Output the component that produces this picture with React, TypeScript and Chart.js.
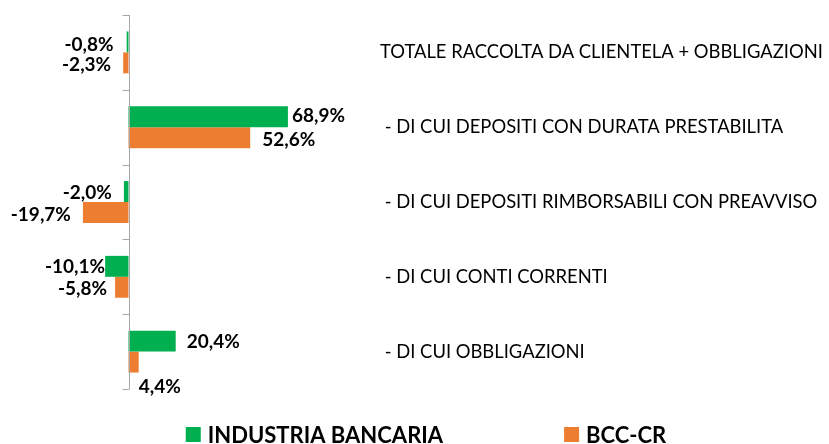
import React, { useEffect, useRef } from "react";
import { Chart, registerables } from "chart.js";

Chart.register(...registerables);

const categories = [
  "TOTALE RACCOLTA DA CLIENTELA + OBBLIGAZIONI",
  " - DI CUI DEPOSITI CON DURATA PRESTABILITA",
  " - DI CUI DEPOSITI RIMBORSABILI CON PREAVVISO",
  " - DI CUI CONTI CORRENTI",
  " - DI CUI OBBLIGAZIONI",
];
const industriaBancaria = [-0.8, 68.9, -2.0, -10.1, 20.4];
const bccCr = [-2.3, 52.6, -19.7, -5.8, 4.4];
const seriesNames = ["INDUSTRIA BANCARIA", "BCC-CR"];
const seriesColors = ["#00B050", "#ED7D31"];

// label placement tweaks (style only)
const labelDx = [
  [13, 4, 12, 0, 11],
  [12, 12, 12, 8, 0],
];
const labelDy = [
  [3, -1, 1, 1, 1],
  [2, 2, 2, 2, 25],
];

const fmt = (v: number) => v.toFixed(1).replace(".", ",") + "%";

const FONT = "Lato, 'Open Sans', sans-serif";

const axisPlugin = {
  id: "zeroAxis",
  afterDatasetsDraw(chart: any) {
    const { ctx, chartArea } = chart;
    const xs = chart.scales.x;
    const x0 = Math.round(xs.getPixelForValue(0)) + 0.5;
    const n = categories.length;
    const step = (chartArea.bottom - chartArea.top) / n;
    ctx.save();
    ctx.strokeStyle = "#A6A6A6";
    ctx.lineWidth = 1;
    ctx.beginPath();
    ctx.moveTo(x0, chartArea.top);
    ctx.lineTo(x0, chartArea.bottom);
    for (let i = 0; i <= n; i++) {
      const y = Math.round(chartArea.top + i * step) + 0.5;
      ctx.moveTo(x0 - 7, y);
      ctx.lineTo(x0, y);
    }
    ctx.stroke();
    ctx.restore();
  },
};

const labelPlugin = {
  id: "valueLabels",
  afterDatasetsDraw(chart: any) {
    const { ctx } = chart;
    ctx.save();
    ctx.font = "bold 19px " + FONT;
    ctx.fillStyle = "#000";
    ctx.textBaseline = "middle";
    chart.data.datasets.forEach((ds: any, di: number) => {
      const meta = chart.getDatasetMeta(di);
      meta.data.forEach((bar: any, i: number) => {
        const v = ds.data[i];
        const dx = labelDx[di][i];
        const dy = labelDy[di][i];
        if (v < 0) {
          ctx.textAlign = "right";
          ctx.fillText(fmt(v), bar.x - dx, bar.y + dy);
        } else {
          ctx.textAlign = "left";
          ctx.fillText(fmt(v), bar.x + dx, bar.y + dy);
        }
      });
    });
    ctx.restore();
  },
};

const legendPlugin = {
  id: "bottomLegend",
  afterDraw(chart: any) {
    const { ctx } = chart;
    ctx.save();
    ctx.font = "bold 22px " + FONT;
    ctx.textBaseline = "middle";
    ctx.textAlign = "left";
    const box = 15;
    const textGap = 7;
    const itemGap = 121;
    const items = chart.data.datasets.map((ds: any) => ({
      text: ds.label,
      color: ds.backgroundColor,
      w: box + textGap + ctx.measureText(ds.label).width,
    }));
    const total = items.reduce((s: number, it: any) => s + it.w, 0) + itemGap * (items.length - 1);
    let x = 426 - total / 2;
    const boxTop = 427;
    items.forEach((it: any) => {
      ctx.fillStyle = it.color;
      ctx.fillRect(x, boxTop, box, box);
      ctx.fillStyle = "#000";
      ctx.fillText(it.text, x + box + textGap, boxTop + box / 2 + 1);
      x += it.w + itemGap;
    });
    ctx.restore();
  },
};

export default function App() {
  const ref = useRef<HTMLCanvasElement>(null);
  useEffect(() => {
    if (!ref.current) return;
    const chart = new Chart(ref.current, {
      type: "bar",
      data: {
        labels: categories,
        datasets: [
          {
            label: seriesNames[0],
            data: industriaBancaria,
            backgroundColor: seriesColors[0],
            categoryPercentage: 0.56,
            barPercentage: 1,
          },
          {
            label: seriesNames[1],
            data: bccCr,
            backgroundColor: seriesColors[1],
            categoryPercentage: 0.56,
            barPercentage: 1,
          },
        ],
      },
      options: {
        indexAxis: "y",
        responsive: false,
        animation: false,
        layout: { padding: { top: 15, bottom: 55, left: 0, right: 0 } },
        plugins: {
          legend: { display: false },
          tooltip: { enabled: false },
        },
        scales: {
          x: {
            display: false,
            min: -55.54,
            max: 108.7,
          },
          y: {
            position: "right",
            grid: { display: false, drawTicks: false },
            border: { display: false },
            ticks: {
              padding: 0,
              color: "#000",
              font: { family: FONT, size: 18.4 },
              autoSkip: false,
            },
            afterFit: (s: any) => {
              s.width = 829 - 380;
            },
          },
        },
      },
      plugins: [axisPlugin, labelPlugin, legendPlugin],
    });
    return () => chart.destroy();
  }, []);
  return (
    <div style={{ position: "fixed", left: 0, top: 0, width: 829, height: 444, background: "#fff" }}>
      <canvas ref={ref} width={829} height={444} style={{ display: "block" }} />
    </div>
  );
}
